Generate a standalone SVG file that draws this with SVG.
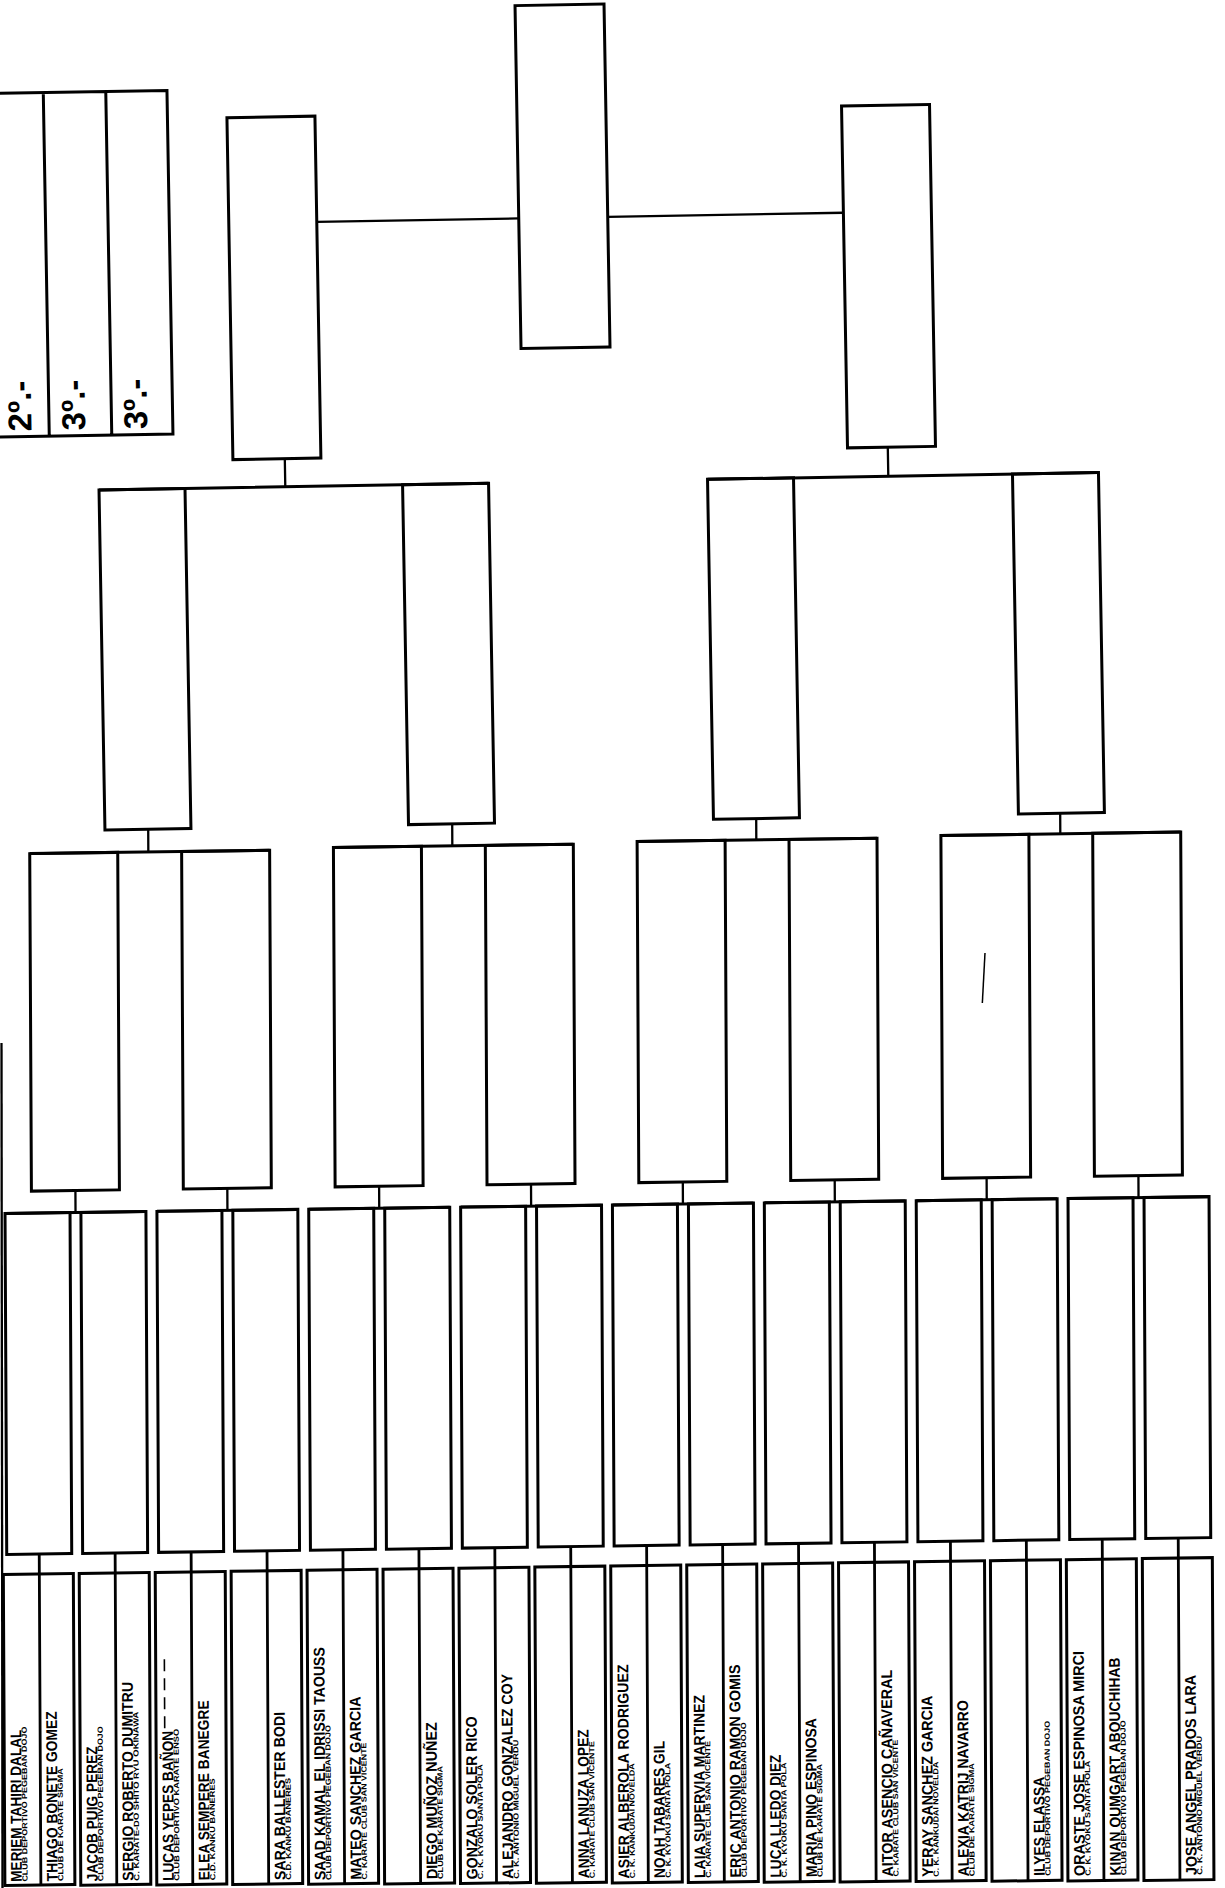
<svg xmlns="http://www.w3.org/2000/svg" width="1225" height="1888" viewBox="0 0 1225 1888">
<style>
.box{fill:none;stroke:#000;stroke-width:3}
.bar{fill:none;stroke:#000;stroke-width:3}
.con{fill:none;stroke:#000;stroke-width:2.3}
.div{fill:none;stroke:#000;stroke-width:2.8}
.n{font-family:"Liberation Sans",Arial,sans-serif;font-size:15.5px;font-weight:bold;fill:#000}
.c{font-family:"Liberation Sans",Arial,sans-serif;font-size:7.5px;font-weight:bold;fill:#000}
.p{font-family:"Liberation Sans",Arial,sans-serif;font-size:33px;font-weight:bold;fill:#000}
</style>
<rect width="1225" height="1888" fill="#fff"/>

<g id="upper-nodes" transform="rotate(-1 612 450)">
  <g id="medal-table">
    <path class="box" d="M-30 82.7H173.3V426.4H-30M49.6 82.7V426.4M112.1 82.7V426.4"/>
    <text class="p" transform="translate(32 421) rotate(-90)">2º.-</text>
    <text class="p" transform="translate(85.6 421) rotate(-90)">3º.-</text>
    <text class="p" transform="translate(147.6 421) rotate(-90)">3º.-</text>
  </g>
  <g id="final"><rect class="box" x="522.8" y="4" width="89" height="343"/></g>
  <g id="semi-1"><rect class="box" x="232.8" y="111" width="88" height="342"/></g>
  <g id="semi-2"><rect class="box" x="847.5" y="110" width="88" height="342"/></g>
  <g id="quarter-1"><rect class="box" x="98.4" y="481" width="86" height="340"/></g>
  <g id="quarter-2"><rect class="box" x="402" y="481" width="86" height="340"/></g>
  <g id="quarter-3"><rect class="box" x="707" y="481" width="86" height="340"/></g>
  <g id="quarter-4"><rect class="box" x="1012" y="481" width="86" height="340"/></g>
</g>

<g id="lower-nodes" transform="matrix(1 -0.014 0.005 1 -6.9 8.568)">
  <g id="r3-1"><rect class="box" x="32.4" y="845.5" width="88" height="337.5"/></g>
  <g id="r3-2"><rect class="box" x="184.3" y="845.5" width="88" height="337.5"/></g>
  <g id="r3-3"><rect class="box" x="336.1" y="843.7" width="88" height="339.3"/></g>
  <g id="r3-4"><rect class="box" x="488" y="843.7" width="88" height="339.3"/></g>
  <g id="r3-5"><rect class="box" x="639.8" y="841.9" width="88" height="341.1"/></g>
  <g id="r3-6"><rect class="box" x="791.7" y="841.9" width="88" height="341.1"/></g>
  <g id="r3-7"><rect class="box" x="943.6" y="840.1" width="88" height="342.9"/><path class="con" style="stroke-width:1.5" d="M987.1 958.2L984.2 1008.2"/></g>
  <g id="r3-8"><rect class="box" x="1095.4" y="840.1" width="88" height="342.9"/></g>

  <g id="r2-1"><rect class="box" x="5.9" y="1205" width="65" height="341"/></g>
  <g id="r2-2"><rect class="box" x="81.8" y="1205" width="65" height="341"/></g>
  <g id="r2-3"><rect class="box" x="157.8" y="1205" width="65" height="341"/></g>
  <g id="r2-4"><rect class="box" x="233.7" y="1205" width="65" height="341"/></g>
  <g id="r2-5"><rect class="box" x="309.6" y="1205" width="65" height="341"/></g>
  <g id="r2-6"><rect class="box" x="385.6" y="1205" width="65" height="341"/></g>
  <g id="r2-7"><rect class="box" x="461.5" y="1205" width="65" height="341"/></g>
  <g id="r2-8"><rect class="box" x="537.4" y="1205" width="65" height="341"/></g>
  <g id="r2-9"><rect class="box" x="613.3" y="1205" width="65" height="341"/></g>
  <g id="r2-10"><rect class="box" x="689.3" y="1205" width="65" height="341"/></g>
  <g id="r2-11"><rect class="box" x="765.2" y="1205" width="65" height="341"/></g>
  <g id="r2-12"><rect class="box" x="841.1" y="1205" width="65" height="341"/></g>
  <g id="r2-13"><rect class="box" x="917.1" y="1205" width="65" height="341"/></g>
  <g id="r2-14"><rect class="box" x="993" y="1205" width="65" height="341"/></g>
  <g id="r2-15"><rect class="box" x="1068.9" y="1205" width="65" height="341"/></g>
  <g id="r2-16"><rect class="box" x="1144.9" y="1205" width="65" height="341"/></g>

  <g id="match-1"><rect class="box" x="2.4" y="1566" width="70" height="311"/>
    <text class="n" transform="translate(19.4 1873.4) rotate(-90)" textLength="152" lengthAdjust="spacingAndGlyphs">MERIEM TAHIRI DALAL</text>
    <text class="c" transform="translate(25 1873.4) rotate(-90)" textLength="155" lengthAdjust="spacingAndGlyphs">CLUB DEPORTIVO PEGEBAN DOJO</text>
    <text class="n" transform="translate(55.2 1873.4) rotate(-90)" textLength="170" lengthAdjust="spacingAndGlyphs">THIAGO BONETE GOMEZ</text>
    <text class="c" transform="translate(60.8 1873.4) rotate(-90)" textLength="113" lengthAdjust="spacingAndGlyphs">CLUB DE KARATE SIGMA</text>
  </g>
  <g id="match-2"><rect class="box" x="78.3" y="1566" width="70" height="311.7"/>
    <text class="n" transform="translate(95.3 1874) rotate(-90)" textLength="135" lengthAdjust="spacingAndGlyphs">JACOB PUIG PEREZ</text>
    <text class="c" transform="translate(100.9 1874) rotate(-90)" textLength="155" lengthAdjust="spacingAndGlyphs">CLUB DEPORTIVO PEGEBAN DOJO</text>
    <text class="n" transform="translate(131.1 1874) rotate(-90)" textLength="199" lengthAdjust="spacingAndGlyphs">SERGIO ROBERTO DUMITRU</text>
    <text class="c" transform="translate(136.7 1874) rotate(-90)" textLength="169" lengthAdjust="spacingAndGlyphs">C. KARATE-DO SHITO RYU OKINAWA</text>
  </g>
  <g id="match-3"><rect class="box" x="154.3" y="1566" width="70" height="312.5"/>
    <text class="n" transform="translate(171.3 1874.7) rotate(-90)" textLength="150" lengthAdjust="spacingAndGlyphs">LUCAS YEPES BAÑON</text>
    <path class="con" style="stroke-width:1.6" stroke-dasharray="12 7" d="M163 1722V1651"/>
    <text class="c" transform="translate(176.9 1874.7) rotate(-90)" textLength="152" lengthAdjust="spacingAndGlyphs">CLUB DEPORTIVO KARATE ENSO</text>
    <text class="n" transform="translate(207.1 1874.7) rotate(-90)" textLength="180" lengthAdjust="spacingAndGlyphs">ELEA SEMPERE BANEGRE</text>
    <text class="c" transform="translate(212.7 1874.7) rotate(-90)" textLength="102" lengthAdjust="spacingAndGlyphs">C.D. KANKU BAÑERES</text>
  </g>
  <g id="match-4"><rect class="box" x="230.2" y="1566" width="70" height="313.2"/>
    <text class="n" transform="translate(283 1875.3) rotate(-90)" textLength="168" lengthAdjust="spacingAndGlyphs">SARA BALLESTER BODI</text>
    <text class="c" transform="translate(288.6 1875.3) rotate(-90)" textLength="102" lengthAdjust="spacingAndGlyphs">C.D. KANKU BAÑERES</text>
  </g>
  <g id="match-5"><rect class="box" x="306.1" y="1566" width="70" height="313.9"/>
    <text class="n" transform="translate(323.1 1876) rotate(-90)" textLength="233" lengthAdjust="spacingAndGlyphs">SAAD KAMAL EL IDRISSI TAOUSS</text>
    <text class="c" transform="translate(328.7 1876) rotate(-90)" textLength="155" lengthAdjust="spacingAndGlyphs">CLUB DEPORTIVO PEGEBAN DOJO</text>
    <text class="n" transform="translate(358.9 1876) rotate(-90)" textLength="183" lengthAdjust="spacingAndGlyphs">MATEO SANCHEZ GARCIA</text>
    <text class="c" transform="translate(364.5 1876) rotate(-90)" textLength="137" lengthAdjust="spacingAndGlyphs">C. KARATE CLUB SAN VICENTE</text>
  </g>
  <g id="match-6"><rect class="box" x="382.1" y="1566" width="70" height="314.7"/>
    <text class="n" transform="translate(434.9 1876.6) rotate(-90)" textLength="157" lengthAdjust="spacingAndGlyphs">DIEGO MUÑOZ NUÑEZ</text>
    <text class="c" transform="translate(440.5 1876.6) rotate(-90)" textLength="113" lengthAdjust="spacingAndGlyphs">CLUB DE KARATE SIGMA</text>
  </g>
  <g id="match-7"><rect class="box" x="458" y="1566" width="70" height="315.4"/>
    <text class="n" transform="translate(475 1877.3) rotate(-90)" textLength="163" lengthAdjust="spacingAndGlyphs">GONZALO SOLER RICO</text>
    <text class="c" transform="translate(480.6 1877.3) rotate(-90)" textLength="115" lengthAdjust="spacingAndGlyphs">C. K. KYOKU SANTA POLA</text>
    <text class="n" transform="translate(510.8 1877.3) rotate(-90)" textLength="205" lengthAdjust="spacingAndGlyphs">ALEJANDRO GONZALEZ COY</text>
    <text class="c" transform="translate(516.4 1877.3) rotate(-90)" textLength="139" lengthAdjust="spacingAndGlyphs">C. K. ANTONIO MIGUEL VERDU</text>
  </g>
  <g id="match-8"><rect class="box" x="533.9" y="1566" width="70" height="316.1"/>
    <text class="n" transform="translate(586.7 1877.9) rotate(-90)" textLength="149" lengthAdjust="spacingAndGlyphs">ANNA LANUZA LOPEZ</text>
    <text class="c" transform="translate(592.3 1877.9) rotate(-90)" textLength="137" lengthAdjust="spacingAndGlyphs">C. KARATE CLUB SAN VICENTE</text>
  </g>
  <g id="match-9"><rect class="box" x="609.8" y="1566" width="70" height="316.9"/>
    <text class="n" transform="translate(626.8 1878.6) rotate(-90)" textLength="214" lengthAdjust="spacingAndGlyphs">ASIER ALBEROLA RODRIGUEZ</text>
    <text class="c" transform="translate(632.4 1878.6) rotate(-90)" textLength="115" lengthAdjust="spacingAndGlyphs">C. K. KANKUDAI NOVELDA</text>
    <text class="n" transform="translate(662.6 1878.6) rotate(-90)" textLength="137" lengthAdjust="spacingAndGlyphs">NOAH TABARES GIL</text>
    <text class="c" transform="translate(668.2 1878.6) rotate(-90)" textLength="115" lengthAdjust="spacingAndGlyphs">C. K. KYOKU SANTA POLA</text>
  </g>
  <g id="match-10"><rect class="box" x="685.8" y="1566" width="70" height="317.6"/>
    <text class="n" transform="translate(702.8 1879.2) rotate(-90)" textLength="183" lengthAdjust="spacingAndGlyphs">LAIA SUPERVIA MARTINEZ</text>
    <text class="c" transform="translate(708.4 1879.2) rotate(-90)" textLength="137" lengthAdjust="spacingAndGlyphs">C. KARATE CLUB SAN VICENTE</text>
    <text class="n" transform="translate(738.6 1879.2) rotate(-90)" textLength="213" lengthAdjust="spacingAndGlyphs">ERIC ANTONIO RAMON GOMIS</text>
    <text class="c" transform="translate(744.2 1879.2) rotate(-90)" textLength="155" lengthAdjust="spacingAndGlyphs">CLUB DEPORTIVO PEGEBAN DOJO</text>
  </g>
  <g id="match-11"><rect class="box" x="761.7" y="1566" width="70" height="318.3"/>
    <text class="n" transform="translate(778.7 1879.9) rotate(-90)" textLength="123" lengthAdjust="spacingAndGlyphs">LUCA LLEDO DIEZ</text>
    <text class="c" transform="translate(784.3 1879.9) rotate(-90)" textLength="115" lengthAdjust="spacingAndGlyphs">C. K. KYOKU SANTA POLA</text>
    <text class="n" transform="translate(814.5 1879.9) rotate(-90)" textLength="159" lengthAdjust="spacingAndGlyphs">MARIA PINO ESPINOSA</text>
    <text class="c" transform="translate(820.1 1879.9) rotate(-90)" textLength="113" lengthAdjust="spacingAndGlyphs">CLUB DE KARATE SIGMA</text>
  </g>
  <g id="match-12"><rect class="box" x="837.6" y="1566" width="70" height="319.1"/>
    <text class="n" transform="translate(890.4 1880.5) rotate(-90)" textLength="207" lengthAdjust="spacingAndGlyphs">AITOR ASENCIO CAÑAVERAL</text>
    <text class="c" transform="translate(896 1880.5) rotate(-90)" textLength="137" lengthAdjust="spacingAndGlyphs">C. KARATE CLUB SAN VICENTE</text>
  </g>
  <g id="match-13"><rect class="box" x="913.6" y="1566" width="70" height="319.8"/>
    <text class="n" transform="translate(930.6 1881.2) rotate(-90)" textLength="181" lengthAdjust="spacingAndGlyphs">YERAY SANCHEZ GARCIA</text>
    <text class="c" transform="translate(936.2 1881.2) rotate(-90)" textLength="115" lengthAdjust="spacingAndGlyphs">C. K. KANKUDAI NOVELDA</text>
    <text class="n" transform="translate(966.4 1881.2) rotate(-90)" textLength="176" lengthAdjust="spacingAndGlyphs">ALEXIA KATRIJ NAVARRO</text>
    <text class="c" transform="translate(972 1881.2) rotate(-90)" textLength="113" lengthAdjust="spacingAndGlyphs">CLUB DE KARATE SIGMA</text>
  </g>
  <g id="match-14"><rect class="box" x="989.5" y="1566" width="70" height="320.5"/>
    <text class="n" transform="translate(1042.3 1881.8) rotate(-90)" textLength="99" lengthAdjust="spacingAndGlyphs">ILYES ELASSA</text>
    <text class="c" transform="translate(1047.9 1881.8) rotate(-90)" textLength="155" lengthAdjust="spacingAndGlyphs">CLUB DEPORTIVO PEGEBAN DOJO</text>
  </g>
  <g id="match-15"><rect class="box" x="1065.4" y="1566" width="70" height="321.3"/>
    <text class="n" transform="translate(1082.4 1882.5) rotate(-90)" textLength="225" lengthAdjust="spacingAndGlyphs">ORASTE JOSE ESPINOSA MIRCI</text>
    <text class="c" transform="translate(1088 1882.5) rotate(-90)" textLength="115" lengthAdjust="spacingAndGlyphs">C. K. KYOKU SANTA POLA</text>
    <text class="n" transform="translate(1118.2 1882.5) rotate(-90)" textLength="218" lengthAdjust="spacingAndGlyphs">KINAN OUMGART ABOUCHIHAB</text>
    <text class="c" transform="translate(1123.8 1882.5) rotate(-90)" textLength="155" lengthAdjust="spacingAndGlyphs">CLUB DEPORTIVO PEGEBAN DOJO</text>
  </g>
  <g id="match-16"><rect class="box" x="1141.4" y="1566" width="70" height="322"/>
    <text class="n" transform="translate(1194.2 1883.1) rotate(-90)" textLength="200" lengthAdjust="spacingAndGlyphs">JOSE ANGEL PRADOS LARA</text>
    <text class="c" transform="translate(1199.8 1883.1) rotate(-90)" textLength="139" lengthAdjust="spacingAndGlyphs">C. K. ANTONIO MIGUEL VERDU</text>
  </g>
</g>

<g id="connectors">
  <g transform="rotate(-1 612 450)">
    <path class="con" d="M320.8 216.8H522.8M611.8 216.8H847.5"/>
    <path class="con" d="M284.7 453V481M887.8 452V481"/>
    <path class="bar" d="M98.4 481H488M707 481H1098"/>
  </g>
  <g transform="matrix(1 -0.014 0.005 1 -6.9 8.568)">
    <path class="con" d="M151 822.6V845.5M455 821.5V843.7M759 820.5V841.9M1063 819.4V840.1"/>
    <path class="bar" d="M32.4 845.5H272.3M336.1 843.7H576M639.8 841.9H879.7M943.6 840.1H1183.4"/>
    <path class="con" d="M76.4 1183V1205M228.3 1183V1205M380.1 1183V1205M532 1183V1205M683.8 1183V1205M835.7 1183V1205M987.6 1183V1205M1139.4 1183V1205"/>
    <path class="bar" d="M5.9 1205H146.8M157.8 1205H298.7M309.6 1205H450.6M461.5 1205H602.4M613.3 1205H754.3M765.2 1205H906.1M917.1 1205H1058M1068.9 1205H1209.9"/>
    <path class="div" d="M38.4 1546V1877M114.3 1546V1877.7M190.3 1546V1878.5M266.2 1546V1879.2M342.1 1546V1879.9M418.1 1546V1880.7M494 1546V1881.4M569.9 1546V1882.1M645.8 1546V1882.9M721.8 1546V1883.6M797.7 1546V1884.3M873.6 1546V1885.1M949.6 1546V1885.8M1025.5 1546V1886.5M1101.4 1546V1887.3M1177.4 1546V1888"/>
  </g>
</g>
<g id="edge"><path class="con" d="M1.5 1043L2.5 1888"/></g>
</svg>
